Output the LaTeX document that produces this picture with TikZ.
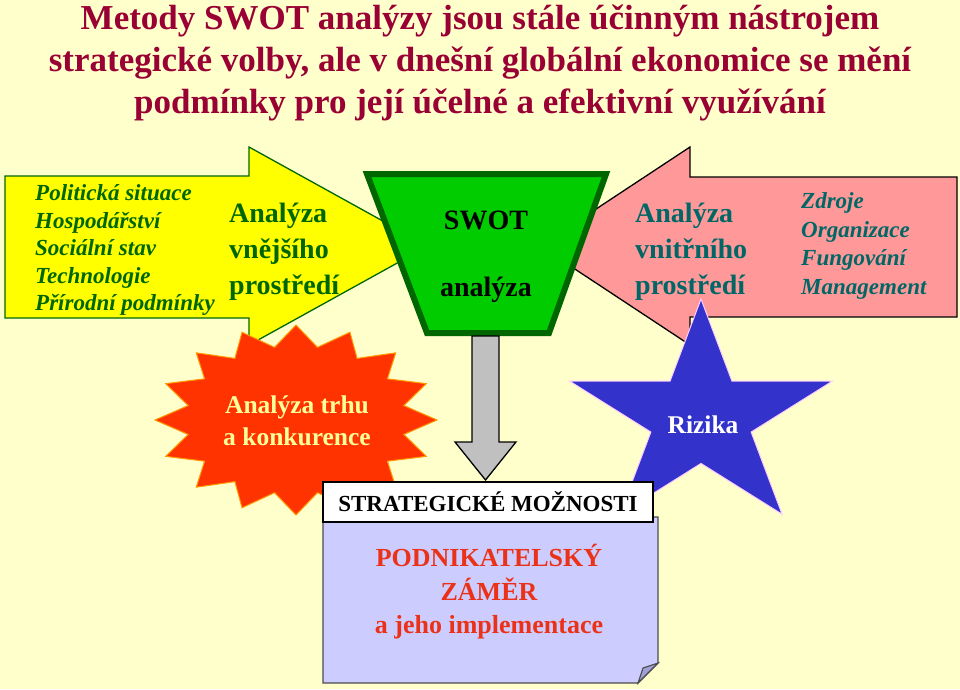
\documentclass[tikz,border=0pt]{standalone}
\usepackage{fontspec}
\setmainfont{Liberation Serif}
\definecolor{bgc}{RGB}{255,255,204}
\definecolor{yel}{RGB}{255,255,0}
\definecolor{dgreen}{RGB}{0,102,0}
\definecolor{swotg}{RGB}{0,204,0}
\definecolor{pinkc}{RGB}{255,153,153}
\definecolor{tealc}{RGB}{0,102,102}
\definecolor{orng}{RGB}{255,51,0}
\definecolor{orngb}{RGB}{255,153,0}
\definecolor{startxt}{RGB}{255,255,153}
\definecolor{bluec}{RGB}{51,51,204}
\definecolor{blueb}{RGB}{255,204,255}
\definecolor{grayc}{RGB}{192,192,192}
\definecolor{lav}{RGB}{204,204,255}
\definecolor{lavd}{RGB}{160,160,215}
\definecolor{redt}{RGB}{235,50,25}
\definecolor{titlec}{RGB}{153,0,51}
\tikzset{
  titletxt/.style={font=\fontsize{35}{42}\selectfont\bfseries, text=titlec, align=center, inner sep=0},
  listtxt/.style={font=\fontsize{23}{27.5}\selectfont\bfseries\itshape, align=left, inner sep=0, anchor=west},
  bigtxt/.style={font=\fontsize{28}{36}\selectfont\bfseries, align=left, inner sep=0, anchor=west},
  swottxt/.style={font=\fontsize{28}{34}\selectfont\bfseries, inner sep=0},
  startext/.style={font=\fontsize{25.5}{32}\selectfont\bfseries, align=center, inner sep=0},
  boxtxt/.style={font=\fontsize{26}{33.5}\selectfont\bfseries, align=center, inner sep=0, text=redt},
}
\begin{document}
\begin{tikzpicture}[x=1pt,y=-1pt]
\useasboundingbox (0,0) rectangle (960,689);
\fill[bgc] (0,0) rectangle (960,689);
% title
\node[titletxt] (title) at (480,63) {Metody SWOT analýzy jsou stále účinným nástrojem\\strategické volby, ale v dnešní globální ekonomice se mění\\podmínky pro její účelné a efektivní využívání};
% yellow arrow
\draw[fill=yel, draw=dgreen, line width=1.3] (5,176) -- (249,176) -- (249,147) -- (428,246) -- (249,345) -- (249,318) -- (5,318) -- cycle;
% pink arrow
\draw[fill=pinkc, draw=black, line width=1.3] (957,177) -- (690,177) -- (690,147) -- (540,246) -- (690,345) -- (690,317) -- (957,317) -- cycle;
% green trapezoid
\draw[fill=swotg, draw=dgreen, line width=6, line join=miter] (367,174) -- (606,174) -- (549,333) -- (427,333) -- cycle;
% gray arrow
\draw[fill=grayc, draw=black, line width=1.3] (472,336) -- (499,336) -- (499,442) -- (516,442) -- (485.5,480) -- (455,442) -- (472,442) -- cycle;
% orange star
\draw[fill=orng, draw=orngb, line width=1] plot[samples at={0,...,31}] ({296+141*sin(\x*11.25)*(1-0.22*isodd(\x))},{420-95*cos(\x*11.25)*(1-0.22*isodd(\x))}) -- cycle;
% blue star
\draw[fill=bluec, draw=blueb, line width=1] plot[samples at={0,...,9}] ({701+138*sin(\x*36)*(1-0.618*isodd(\x))},{418-119*cos(\x*36)*(1-0.618*isodd(\x))}) -- cycle;
% box body
\draw[fill=lav, draw=black!70, line width=1.3] (323,517) -- (658,517) -- (658,663) -- (638,683) -- (323,683) -- cycle;
\draw[fill=lavd, draw=black!70, line width=1.1] (638,683) .. controls (640,676) .. (643,668) .. controls (650,666) .. (658,663) -- cycle;
% header
\draw[fill=white, draw=black, line width=1.5] (323,482) rectangle (653,522);
% texts
\node[listtxt, text=dgreen] (extlist) at (35,250) {Politická situace\\Hospodářství\\Sociální stav\\Technologie\\Přírodní podmínky};
\node[bigtxt, text=dgreen] (ext) at (229,252) {Analýza\\vnějšího\\prostředí};
\node[swottxt] (swot) at (486,220) {SWOT};
\node[swottxt] (swot2) at (486,290) {analýza};
\node[bigtxt, text=tealc] (int) at (635,252) {Analýza\\vnitřního\\prostředí};
\node[listtxt, text=tealc, font=\fontsize{23}{28.7}\selectfont\bfseries\itshape] (intlist) at (801,246) {Zdroje\\Organizace\\Fungování\\Management};
\node[startext, text=startxt] (market) at (297,421) {Analýza trhu\\a konkurence};
\node[startext, text=white] (risk) at (703,425) {Rizika};
\node[font=\fontsize{23}{28}\selectfont\bfseries, inner sep=0] (strat) at (488,502) {STRATEGICKÉ MOŽNOSTI};
\node[boxtxt] (plan) at (489,592) {PODNIKATELSKÝ\\ZÁMĚR\\a jeho implementace};
\end{tikzpicture}
\end{document}
